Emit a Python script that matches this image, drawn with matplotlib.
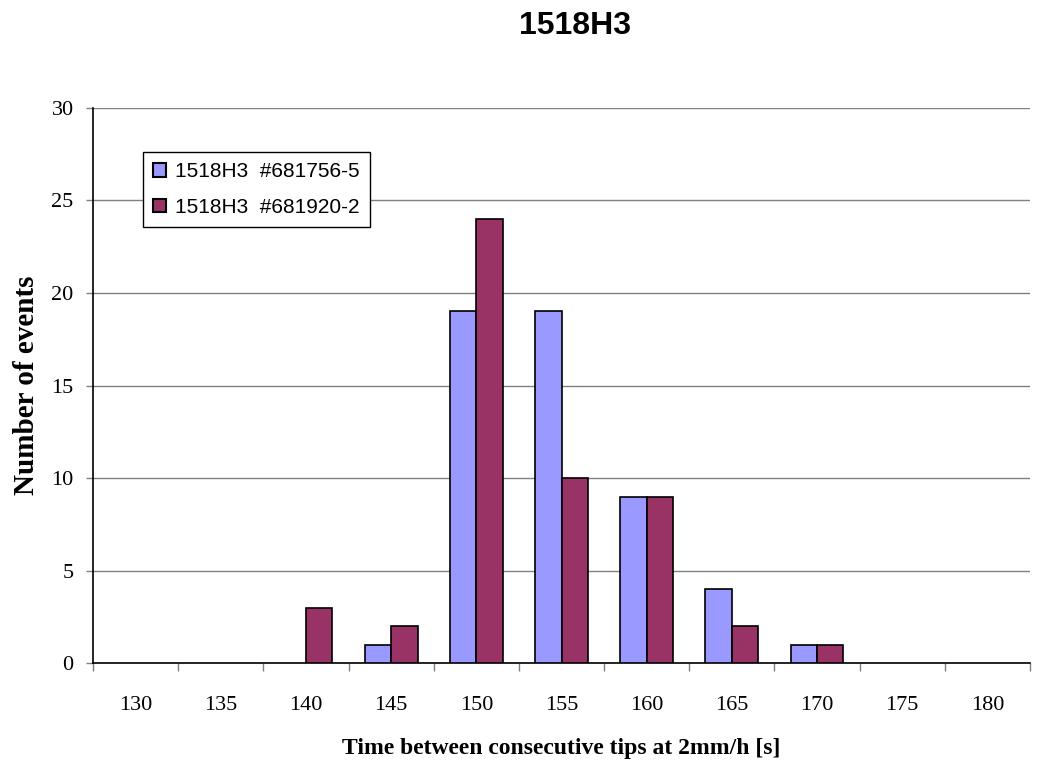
import matplotlib
matplotlib.use("Agg")
import matplotlib.pyplot as plt
import numpy as np

categories = ["130", "135", "140", "145", "150", "155", "160", "165", "170", "175", "180"]
series1_name = "1518H3  #681756-5"
series2_name = "1518H3  #681920-2"
series1 = [0, 0, 0, 1, 19, 19, 9, 4, 1, 0, 0]
series2 = [0, 0, 3, 2, 24, 10, 9, 2, 1, 0, 0]

fig = plt.figure(figsize=(10.42, 7.63), dpi=100)
ax = fig.add_axes([0.0893, 0.131, 0.8992, 0.7275])

x = np.arange(len(categories))
w = 0.31
lw1 = [1.2 if v > 0 else 0 for v in series1]
lw2 = [1.2 if v > 0 else 0 for v in series2]
ax.bar(x - w/2, series1, w, color="#9999FF", edgecolor="black", linewidth=lw1, label=series1_name, zorder=3)
ax.bar(x + w/2, series2, w, color="#993366", edgecolor="black", linewidth=lw2, label=series2_name, zorder=3)

ax.set_xlim(-0.5, len(categories) - 0.5)
ax.set_ylim(0, 30)
ax.set_yticks(range(0, 31, 5))
ax.yaxis.grid(True, color="#808080", linewidth=1.0, zorder=0)
ax.set_axisbelow(True)

ax.set_xticks(x)
ax.set_xticklabels(categories, fontfamily="Liberation Serif", fontsize=16)
ax.tick_params(axis="x", length=0, pad=24)
ax.set_xticks(np.arange(-0.5, len(categories) - 0.4, 1), minor=True)
ax.tick_params(axis="x", which="minor", length=6, width=1, color="#808080", direction="out")
ax.tick_params(axis="y", length=5, width=1, color="#808080", direction="out", pad=9)
for lbl in ax.get_yticklabels():
    lbl.set_fontfamily("Liberation Serif")
    lbl.set_fontsize(16)

for s in ["top", "right"]:
    ax.spines[s].set_visible(False)
ax.spines["left"].set_color("black")
ax.spines["bottom"].set_color("black")
ax.spines["left"].set_linewidth(1.2)
ax.spines["bottom"].set_linewidth(1.2)

ax.set_xlabel("Time between consecutive tips at 2mm/h [s]", fontfamily="Liberation Serif",
              fontweight="bold", fontsize=17, labelpad=16)
ax.set_ylabel("Number of events", fontfamily="Liberation Serif", fontweight="bold",
              fontsize=21, labelpad=8)
ax.set_title("1518H3", fontfamily="Liberation Sans", fontweight="bold", fontsize=23, pad=53, x=0.514)

leg = ax.legend(loc="upper left", bbox_to_anchor=(0.053, 0.921), frameon=True, fancybox=False,
                edgecolor="black", framealpha=1, prop={"family": "Liberation Sans", "size": 15},
                handlelength=0.62, handleheight=0.62, handletextpad=0.45, borderpad=0.5,
                labelspacing=0.8, borderaxespad=0)
leg.get_frame().set_linewidth(1.0)
for h in leg.legend_handles:
    h.set_edgecolor("black")
    h.set_linewidth(1.5)

fig.savefig("out.png", dpi=100, facecolor="white")
